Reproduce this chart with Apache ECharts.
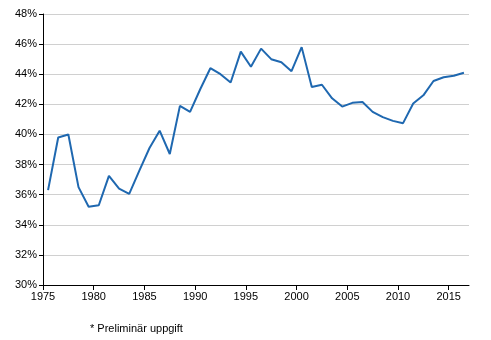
<!DOCTYPE html>
<html>
<head>
<meta charset="utf-8">
<script src="https://cdn.jsdelivr.net/npm/echarts@6/dist/echarts.min.js"></script>
<style>html,body{margin:0;padding:0;background:#fff}#c{width:491px;height:340px}</style>
</head>
<body>
<div id="c"></div>
<script>
const years = [1975,1976,1977,1978,1979,1980,1981,1982,1983,1984,1985,1986,1987,1988,1989,
  1990,1991,1992,1993,1994,1995,1996,1997,1998,1999,2000,2001,2002,2003,2004,2005,2006,2007,2008,2009,
  2010,2011,2012,2013,2014,2015,2016];
const values = [36.3,39.8,40.0,36.5,35.2,35.3,37.25,36.4,36.05,37.6,39.1,40.25,38.7,41.9,41.5,
  43.0,44.4,44.0,43.45,45.5,44.5,45.7,45.0,44.8,44.2,45.8,43.15,43.3,42.4,41.85,42.1,42.15,41.5,41.15,40.9,
  40.75,42.05,42.6,43.55,43.8,43.9,44.1];
const xTicks = [1975,1980,1985,1990,1995,2000,2005,2010,2015];
const xMin = 1975, xMax = 2017;
const yMin = 30, yMax = 48, yStep = 2;
const note = '* Preliminär uppgift';

const chart = echarts.init(document.getElementById('c'), null, {renderer:'canvas'});
const font = {fontFamily:'Liberation Sans, Arial, sans-serif', fontSize:11, color:'#000'};
chart.setOption({
  animation:false,
  title:{text:note, left:85, top:318, textStyle:Object.assign({fontWeight:'normal'}, font)},
  grid:{left:43, right:22, top:14, bottom:55, containLabel:false},
  xAxis:[
    {type:'category', data:years.map(String), boundaryGap:true, show:false},
    {type:'value', min:xMin, max:xMax, interval:5, position:'bottom',
     axisLine:{show:true, lineStyle:{color:'#000', width:1}},
     axisTick:{show:true, length:5, inside:false, customValues:xTicks, lineStyle:{color:'#000'}},
     axisLabel:Object.assign({customValues:xTicks, margin:6, formatter:v=>String(v)}, font),
     splitLine:{show:false}}
  ],
  yAxis:{type:'value', min:yMin, max:yMax, interval:yStep,
    axisLine:{show:true, lineStyle:{color:'#000', width:1}},
    axisTick:{show:true, length:4, inside:false, lineStyle:{color:'#000'}},
    axisLabel:Object.assign({formatter:'{value}%', margin:6}, font),
    splitLine:{show:true, lineStyle:{color:'#d0d0d0', width:1}}},
  series:[{type:'line', xAxisIndex:0, data:values, symbol:'none',
    lineStyle:{color:'#1f68b0', width:2}, z:3}]
});
</script>
</body>
</html>
